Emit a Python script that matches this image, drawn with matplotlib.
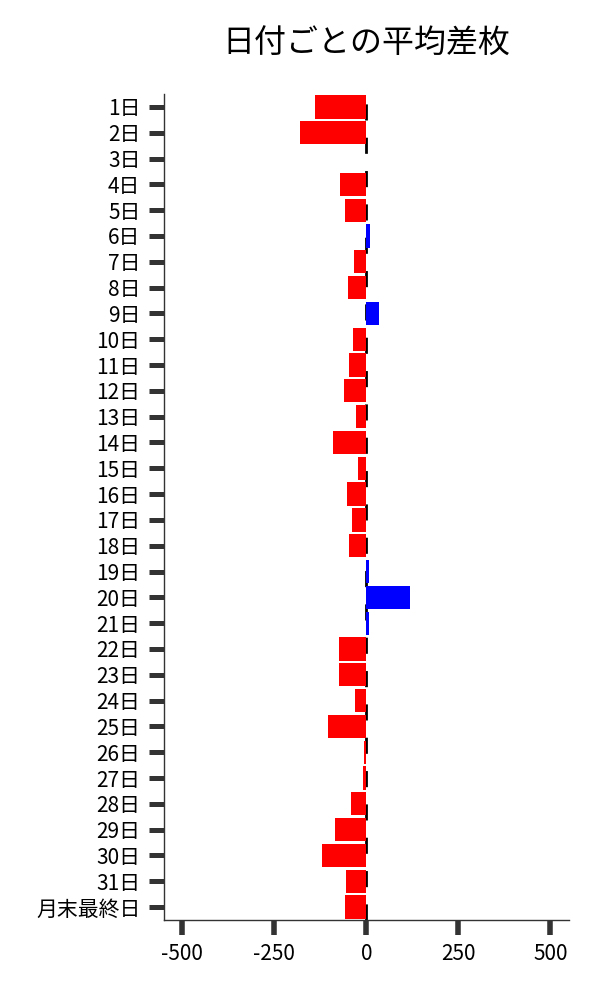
import matplotlib
matplotlib.use("Agg")
import matplotlib.pyplot as plt

plt.rcParams['font.family'] = ['Noto Sans CJK JP', 'DejaVu Sans']
plt.rcParams['axes.unicode_minus'] = False

labels = ["1日", "2日", "3日", "4日", "5日", "6日", "7日", "8日", "9日", "10日",
          "11日", "12日", "13日", "14日", "15日", "16日", "17日", "18日", "19日", "20日",
          "21日", "22日", "23日", "24日", "25日", "26日", "27日", "28日", "29日", "30日",
          "31日", "月末最終日"]
values = [-140, -181, -2, -72, -59, 11, -35, -51, 35, -37,
          -48, -62, -29, -92, -24, -54, -40, -48, 6, 119,
          6, -75, -75, -32, -105, -7, -10, -43, -86, -121,
          -56, -59]
xticks = [-500, -250, 0, 250, 500]
title = "日付ごとの平均差枚"

colors = ['#0000ff' if v > 0 else '#ff0000' for v in values]

fig = plt.figure(figsize=(6, 10), dpi=100)
ax = fig.add_axes([0.2733, 0.08, 0.6747, 0.826])

ypos = list(range(len(labels)))
ax.barh(ypos, values, height=0.9, color=colors, zorder=2)
ax.axvline(0, color='black', linestyle=(0, (5.8, 6.2)), linewidth=2, zorder=1)

ax.set_ylim(len(labels) - 0.5, -0.5)
ax.set_xlim(-550, 550)
ax.set_yticks(ypos)
ax.set_yticklabels(labels, fontsize=15)
ax.set_xticks(xticks)
ax.set_xticklabels([str(t) for t in xticks], fontsize=15)

ax.spines['top'].set_visible(False)
ax.spines['right'].set_visible(False)
for s in ('left', 'bottom'):
    ax.spines[s].set_color('#333333')
    ax.spines[s].set_linewidth(1.0)

ax.tick_params(axis='y', length=11, width=3.6, color='#333333', pad=6)
ax.tick_params(axis='x', length=10.5, width=4, color='#333333', pad=6)

ax.set_title(title, fontsize=23, pad=30)

fig.savefig("out.png", dpi=100, facecolor='white')
